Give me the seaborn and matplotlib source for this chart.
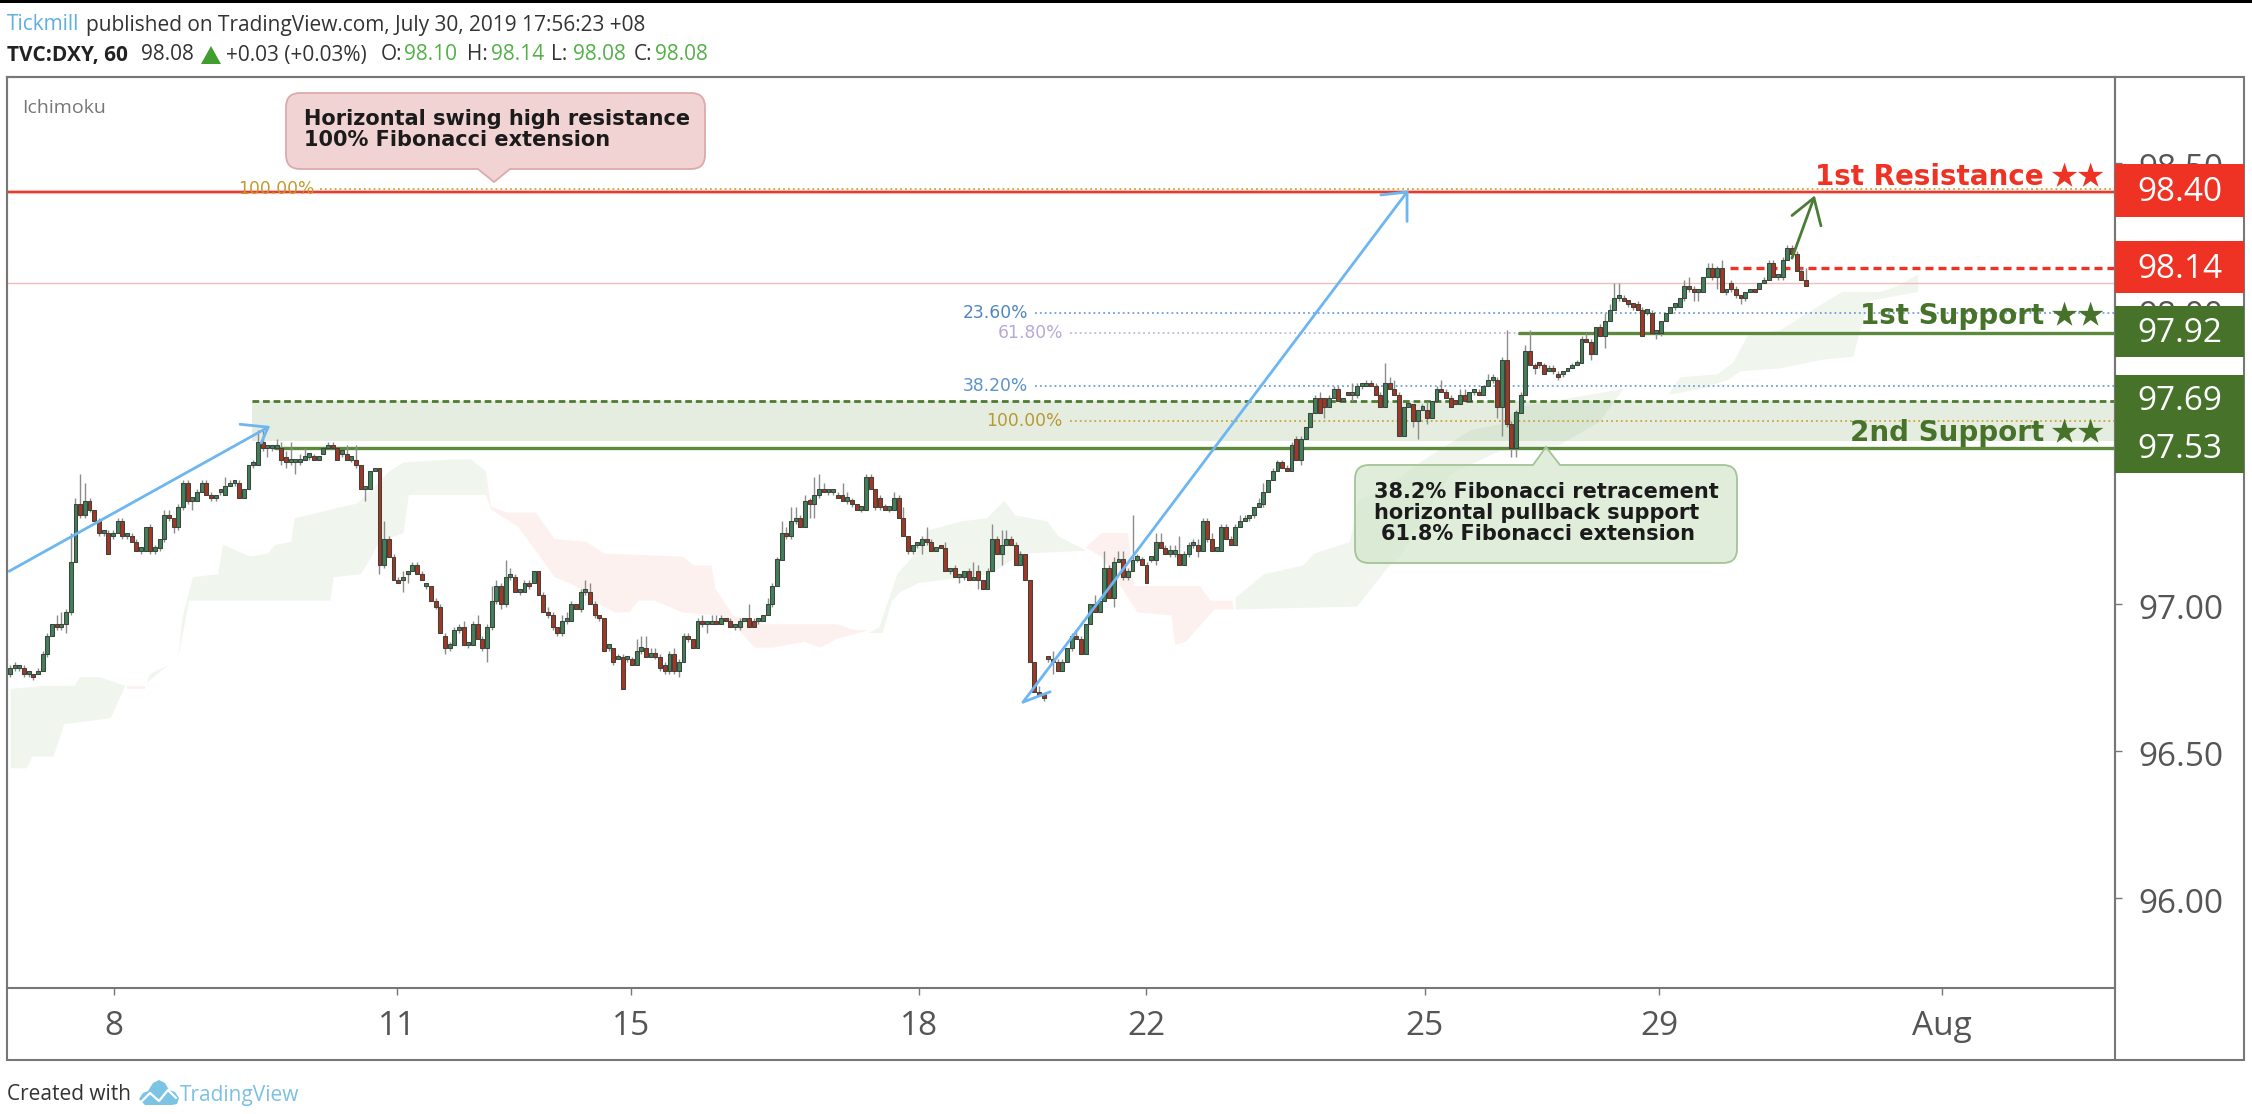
import numpy as np
import pandas as pd
import matplotlib
matplotlib.use("Agg")
import matplotlib.pyplot as plt
from matplotlib.patches import PathPatch, Rectangle, Polygon
from matplotlib.path import Path
from matplotlib.lines import Line2D
from matplotlib.transforms import Affine2D, ScaledTranslation
import seaborn as sns

# ---------- hourly DXY candles, July 2019 ----------
opens = [
96.76,96.78,96.78,96.78,96.76,96.76,96.76,96.77,96.83,96.89,
96.93,96.92,96.93,96.97,97.14,97.34,97.30,97.35,97.32,97.28,
97.24,97.24,97.23,97.24,97.28,97.23,97.23,97.21,97.18,97.18,97.26,
97.18,97.19,97.22,97.30,97.29,97.26,97.33,97.41,97.35,97.35,
97.38,97.41,97.37,97.36,97.38,97.37,97.40,97.41,97.41,97.36,
97.39,97.47,97.47,97.55,97.53,97.53,97.53,97.53,97.50,97.48,97.48,
97.48,97.49,97.50,97.50,97.49,97.51,97.53,97.54,97.53,97.51,97.51,97.49,
97.49,97.47,97.39,97.39,97.45,97.46,97.13,97.22,97.16,97.08,
97.08,97.10,97.11,97.13,97.10,97.06,97.06,97.01,96.99,96.89,
96.85,96.86,96.91,96.92,96.86,96.86,96.93,96.88,96.85,96.92,97.01,
97.06,97.00,97.09,97.09,97.04,97.04,97.07,97.07,97.11,97.03,
96.97,96.96,96.92,
96.90,96.94,96.94,97.00,96.98,97.04,97.04,97.00,96.96,96.95,
96.85,96.85,96.81,96.82,96.81,96.81,96.79,96.84,96.85,96.82,
96.83,96.82,96.79,96.77,96.83,96.77,96.80,96.89,96.88,96.85,
96.94,96.93,96.93,96.94,96.93,96.95,96.94,96.92,96.92,96.94,
96.95,96.94,96.94,96.94,96.96,97.00,97.06,97.15,97.24,97.23,
97.28,97.29,97.26,97.35,97.34,97.37,97.39,97.38,97.38,97.37,
97.37,97.35,97.35,97.34,97.32,97.32,97.43,97.39,97.36,97.33,
97.32,97.32,97.36,97.29,97.23,97.18,97.20,97.20,97.22,97.21,
97.18,97.20,97.19,97.11,97.12,97.09,97.09,97.11,97.08,97.11,
97.08,97.05,97.11,97.22,97.17,97.20,97.22,97.20,97.13,97.17,
97.08,96.80,96.70,96.69,
96.82,96.81,96.80,96.77,96.80,96.85,96.89,96.88,96.83,96.93,
97.00,96.97,97.01,97.12,97.02,97.14,97.15,97.09,97.11,97.15,
97.15,97.13,97.15,97.15,97.21,97.19,97.17,97.17,97.17,97.13,
97.17,97.20,97.20,97.18,97.28,97.22,97.18,97.18,97.26,97.22,
97.20,97.26,97.28,97.29,97.30,97.33,97.34,97.38,97.42,97.45,
97.48,97.46,97.45,
97.56,97.49,97.56,97.60,97.65,97.70,97.70,97.67,97.70,97.73,
97.69,97.72,97.71,97.71,97.74,97.74,97.75,97.74,97.71,97.67,
97.75,97.73,97.71,97.57,97.67,97.68,97.62,97.66,97.66,97.63,
97.69,97.73,97.72,97.70,97.69,97.68,97.71,97.69,97.72,97.72,
97.71,97.74,97.76,97.76,97.67,97.83,97.61,97.53,97.65,97.71,
97.86,97.81,
97.82,97.81,97.79,97.80,97.78,97.78,97.79,97.80,97.81,97.82,
97.90,97.89,97.85,97.94,97.91,97.96,98.00,98.04,98.04,98.03,
98.02,98.02,98.00,97.99,97.99,97.92,97.92,97.96,97.99,98.01,
98.01,98.04,98.08,98.07,98.06,98.06,98.11,98.14,98.11,98.14,
98.06,98.09,98.07,98.05,98.04,98.06,98.07,98.07,98.09,98.10,
98.16,98.11,98.11,98.17,98.21,98.19,98.13,98.10]

closes = [
96.78,96.78,96.78,96.76,96.76,96.75,96.77,96.83,96.89,96.93,
96.92,96.93,96.97,97.14,97.34,97.30,97.35,97.32,97.28,97.24,
97.24,97.17,97.24,97.28,97.23,97.23,97.21,97.18,97.18,97.26,97.18,
97.19,97.22,97.30,97.29,97.26,97.33,97.41,97.35,97.35,97.38,
97.41,97.37,97.36,97.36,97.38,97.40,97.40,97.41,97.36,97.39,
97.47,97.47,97.55,97.53,97.53,97.53,97.53,97.49,97.48,97.48,97.48,
97.49,97.50,97.50,97.49,97.49,97.53,97.54,97.53,97.49,97.51,97.49,97.49,
97.47,97.39,97.39,97.45,97.46,97.13,97.22,97.16,97.08,97.07,
97.09,97.10,97.13,97.10,97.08,97.06,97.01,96.99,96.90,96.85,
96.86,96.91,96.92,96.86,96.86,96.93,96.88,96.85,96.92,97.01,97.06,
97.00,97.09,97.09,97.04,97.04,97.07,97.06,97.11,97.03,96.97,
96.96,96.92,96.90,
96.94,96.94,97.00,96.98,97.04,97.04,97.00,96.96,96.95,96.84,
96.85,96.80,96.82,96.71,96.81,96.79,96.84,96.85,96.82,96.83,
96.82,96.78,96.77,96.83,96.77,96.80,96.89,96.88,96.85,96.94,
96.93,96.93,96.94,96.93,96.95,96.94,96.92,96.92,96.94,96.95,
96.92,96.92,96.94,96.96,97.00,97.06,97.15,97.24,97.23,97.28,
97.29,97.26,97.35,97.34,97.37,97.39,97.38,97.38,97.38,97.36,
97.35,97.35,97.34,97.32,97.32,97.43,97.39,97.33,97.33,97.32,
97.32,97.36,97.29,97.23,97.18,97.20,97.20,97.22,97.21,97.18,
97.18,97.19,97.11,97.11,97.09,97.09,97.11,97.08,97.09,97.08,
97.05,97.11,97.22,97.17,97.20,97.22,97.20,97.13,97.17,97.08,
96.80,96.70,96.69,96.68,
96.81,96.80,96.77,96.80,96.85,96.89,96.88,96.83,96.93,97.00,
96.97,97.01,97.12,97.02,97.14,97.15,97.09,97.11,97.15,97.15,
97.13,97.07,97.15,97.21,97.19,97.17,97.17,97.17,97.13,97.17,
97.20,97.20,97.18,97.28,97.22,97.18,97.18,97.26,97.22,97.20,
97.26,97.28,97.28,97.29,97.33,97.34,97.38,97.42,97.45,97.48,
97.46,97.45,97.54,
97.49,97.56,97.60,97.65,97.70,97.65,97.67,97.70,97.73,97.69,
97.70,97.71,97.71,97.74,97.74,97.75,97.74,97.71,97.67,97.75,
97.73,97.71,97.57,97.67,97.68,97.62,97.66,97.66,97.63,97.69,
97.73,97.72,97.70,97.67,97.68,97.71,97.69,97.72,97.72,97.71,
97.74,97.76,97.76,97.67,97.83,97.61,97.53,97.65,97.71,97.86,
97.81,97.80,
97.81,97.78,97.80,97.79,97.77,97.79,97.80,97.81,97.82,97.90,
97.89,97.85,97.94,97.91,97.96,98.00,98.04,98.04,98.03,98.02,
98.01,98.00,97.91,97.99,97.92,97.92,97.96,97.99,98.01,98.01,
98.04,98.08,98.07,98.06,98.06,98.11,98.14,98.11,98.14,98.06,
98.06,98.07,98.05,98.04,98.06,98.07,98.06,98.09,98.10,98.16,
98.11,98.11,98.17,98.21,98.19,98.13,98.10,98.08]

highs = [
96.79,96.80,96.79,96.79,96.76,96.76,96.78,96.84,96.90,96.93,
96.96,96.97,96.98,97.24,97.36,97.44,97.41,97.36,97.32,97.29,
97.25,97.25,97.25,97.29,97.29,97.24,97.24,97.22,97.19,97.26,97.27,
97.20,97.22,97.32,97.32,97.29,97.34,97.42,97.42,97.36,97.39,
97.42,97.42,97.38,97.37,97.39,97.43,97.42,97.42,97.42,97.39,
97.47,97.49,97.59,97.59,97.54,97.54,97.56,97.55,97.52,97.55,97.49,
97.51,97.53,97.51,97.51,97.50,97.53,97.55,97.55,97.53,97.52,97.54,97.50,
97.54,97.47,97.39,97.45,97.46,97.46,97.28,97.23,97.17,97.09,
97.11,97.11,97.14,97.14,97.11,97.06,97.06,97.02,97.00,96.90,
96.87,96.92,96.93,96.94,96.87,96.94,96.96,96.89,96.93,97.06,97.08,
97.07,97.15,97.12,97.10,97.05,97.08,97.08,97.11,97.11,97.04,
96.99,96.97,96.92,
96.96,96.97,97.01,97.00,97.05,97.08,97.07,97.01,96.96,96.95,
96.86,96.85,96.83,96.83,96.82,96.82,96.88,96.89,96.89,96.85,
96.85,96.83,96.80,96.84,96.85,96.81,96.90,96.90,96.88,96.95,
96.96,96.94,96.96,96.96,96.96,96.95,96.95,96.93,96.95,96.95,
97.00,96.95,96.95,96.96,97.02,97.07,97.16,97.28,97.26,97.33,
97.33,97.30,97.37,97.36,97.43,97.44,97.41,97.39,97.38,97.38,
97.41,97.38,97.36,97.34,97.33,97.44,97.44,97.39,97.37,97.34,
97.33,97.38,97.37,97.33,97.23,97.20,97.21,97.23,97.26,97.22,
97.19,97.20,97.21,97.12,97.13,97.10,97.11,97.12,97.14,97.13,
97.08,97.12,97.27,97.23,97.25,97.25,97.23,97.21,97.18,97.17,
97.08,96.80,96.72,96.69,
96.82,96.84,96.81,96.81,96.85,96.90,96.91,96.89,96.93,97.00,
97.03,97.02,97.18,97.13,97.16,97.18,97.18,97.12,97.30,97.17,
97.16,97.14,97.16,97.24,97.24,97.20,97.20,97.20,97.23,97.18,
97.21,97.22,97.22,97.29,97.29,97.24,97.19,97.27,97.27,97.23,
97.27,97.30,97.30,97.30,97.33,97.36,97.41,97.42,97.46,97.49,
97.49,97.47,97.55,
97.57,97.57,97.60,97.65,97.71,97.72,97.70,97.71,97.74,97.74,
97.70,97.72,97.75,97.75,97.75,97.76,97.76,97.75,97.72,97.82,
97.77,97.76,97.72,97.67,97.68,97.68,97.66,97.68,97.69,97.69,
97.74,97.76,97.73,97.71,97.69,97.73,97.73,97.72,97.73,97.73,
97.74,97.78,97.78,97.77,97.84,97.93,97.62,97.66,97.72,97.88,
97.93,97.82,
97.82,97.82,97.81,97.81,97.79,97.79,97.80,97.82,97.83,97.91,
97.92,97.90,97.94,97.95,97.99,98.02,98.09,98.09,98.05,98.03,
98.02,98.03,98.01,98.00,98.00,97.93,97.96,97.99,98.01,98.02,
98.04,98.10,98.11,98.08,98.07,98.11,98.16,98.16,98.15,98.17,
98.07,98.10,98.08,98.05,98.06,98.07,98.07,98.09,98.11,98.17,
98.17,98.12,98.18,98.22,98.22,98.20,98.14,98.14]

lows = [
96.75,96.77,96.77,96.75,96.75,96.74,96.76,96.77,96.82,96.89,
96.91,96.91,96.90,96.96,97.14,97.29,97.29,97.31,97.28,97.23,
97.23,97.17,97.22,97.24,97.22,97.22,97.21,97.18,97.17,97.18,97.17,
97.17,97.18,97.21,97.28,97.24,97.25,97.32,97.34,97.32,97.35,
97.38,97.37,97.35,97.35,97.37,97.37,97.40,97.40,97.36,97.36,
97.39,97.46,97.47,97.52,97.50,97.52,97.53,97.47,97.46,97.47,97.44,
97.47,97.49,97.49,97.49,97.49,97.51,97.53,97.53,97.49,97.50,97.49,97.48,
97.46,97.39,97.35,97.39,97.45,97.10,97.12,97.16,97.08,97.07,
97.04,97.07,97.11,97.10,97.08,97.05,97.01,96.98,96.90,96.83,
96.84,96.86,96.90,96.86,96.85,96.86,96.88,96.84,96.80,96.91,97.00,
96.98,96.99,97.08,97.04,97.03,97.04,97.05,97.07,97.03,96.97,
96.95,96.91,96.89,
96.89,96.93,96.94,96.98,96.97,97.03,97.00,96.95,96.94,96.84,
96.84,96.79,96.81,96.71,96.80,96.79,96.79,96.83,96.82,96.82,
96.81,96.77,96.76,96.76,96.76,96.75,96.80,96.87,96.85,96.85,
96.92,96.90,96.93,96.93,96.93,96.94,96.92,96.91,96.91,96.94,
96.92,96.92,96.93,96.94,96.96,96.99,97.06,97.15,97.22,97.22,
97.27,97.26,97.26,97.29,97.29,97.36,97.38,97.37,97.37,97.36,
97.35,97.34,97.33,97.32,97.31,97.32,97.39,97.32,97.32,97.32,
97.31,97.32,97.29,97.23,97.17,97.17,97.19,97.17,97.20,97.18,
97.18,97.19,97.11,97.10,97.09,97.07,97.08,97.08,97.08,97.05,
97.05,97.05,97.11,97.17,97.13,97.20,97.20,97.13,97.13,97.08,
96.80,96.70,96.69,96.67,
96.80,96.76,96.77,96.77,96.80,96.84,96.88,96.83,96.83,96.93,
96.97,96.97,97.01,97.02,96.99,97.14,97.08,97.08,97.11,97.14,
97.13,97.07,97.14,97.13,97.19,97.17,97.16,97.16,97.13,97.13,
97.16,97.19,97.16,97.18,97.21,97.18,97.18,97.18,97.22,97.20,
97.20,97.26,97.28,97.28,97.29,97.33,97.33,97.38,97.42,97.45,
97.46,97.45,97.45,
97.49,97.47,97.56,97.60,97.65,97.65,97.63,97.67,97.70,97.69,
97.69,97.71,97.69,97.70,97.73,97.74,97.74,97.71,97.67,97.67,
97.73,97.71,97.57,97.57,97.67,97.60,97.56,97.66,97.61,97.63,
97.69,97.72,97.70,97.67,97.68,97.68,97.69,97.69,97.71,97.71,
97.71,97.74,97.75,97.63,97.57,97.60,97.50,97.50,97.65,97.71,
97.81,97.78,
97.80,97.78,97.79,97.78,97.76,97.77,97.79,97.80,97.81,97.82,
97.89,97.83,97.85,97.91,97.87,97.96,98.00,98.03,98.03,98.01,
98.00,98.00,97.91,97.98,97.92,97.90,97.91,97.96,97.99,98.00,
98.01,98.03,98.06,98.03,98.03,98.06,98.11,98.10,98.07,98.06,
98.05,98.06,98.04,98.02,98.03,98.06,98.06,98.07,98.09,98.10,
98.11,98.10,98.10,98.17,98.19,98.13,98.10,98.08]

# ---------- Ichimoku cloud outlines (x in slightly coarser bar units) ----------
kumo_bar_unit = 1.035
green1_x = [0.1,6.8,13.4,14.5,18.6,23.8,20.8,11.2,9,4.6,3.5,0.1]
green1_y = [96.71,96.72,96.72,96.75,96.75,96.72,96.61,96.59,96.48,96.48,96.44,96.44]
red1_x = [24.1,27.8,27.8,24.1]
red1_y = [96.72,96.72,96.71,96.71]
green2_x = [28.2,28.9,32.6,34.8,35.6,37.8,43,44,49.6,53.3,54.8,58.1,58.8,68.8,71.7,78.4,81.3,90.9,95.3,98.3,
            98.3,82.4,81.3,76.2,74.7,72.5,66.9,66.2,37,34.8]
green2_y = [96.73,96.76,96.79,96.82,96.95,97.09,97.10,97.20,97.16,97.17,97.20,97.21,97.29,97.33,97.34,97.45,97.48,97.49,97.49,97.45,
            97.37,97.37,97.24,97.21,97.16,97.10,97.09,97.01,97.01,96.82]
red2_x = [98.3,99.4,102.7,108.6,112.5,119.1,122.8,139,141.2,144.9,145.7,149.4,153.8,170.8,174.4,177.4,
          170.8,167.4,164.1,157.5,153.8,150.1,146.4,139,133.1,129.8,128,125,121.3,116.9,112.5,109.5,105,99.4,98.3]
red2_y = [97.45,97.33,97.31,97.31,97.22,97.21,97.17,97.16,97.13,97.13,97.05,96.96,96.93,96.93,96.91,96.91,
          96.88,96.85,96.87,96.85,96.85,96.92,96.96,96.97,97.01,97.01,96.97,96.97,97.0,97.06,97.09,97.16,97.26,97.32,97.37]
green3_x = [177.4,179.6,183.3,187,189.9,196.6,201.8,205.4,207.7,214.3,216.5,222.4,209.1,202.5,187.7,184,182.2,180.3]
green3_y = [96.90,96.92,97.10,97.17,97.25,97.28,97.29,97.35,97.30,97.28,97.23,97.18,97.17,97.10,97.07,97.04,97.01,96.90]
red3_x = [222.2,225.5,231,232.2,245.8,248,252.5,252.8,248.8,242.9,240.7,239.9,232.9,225.5]
red3_y = [97.19,97.24,97.24,97.06,97.06,97.01,97.01,96.98,96.98,96.87,96.86,96.96,96.97,97.16]
green4_x = [253.2,259.1,267.2,269.4,276.8,278.5,284,291.3,301.7,307.9,312,333.3,
            328.5,320.2,307.9,297.5,291.5,287.2,284.5,282.6,278.3,253.2]
green4_y = [97.02,97.10,97.13,97.17,97.21,97.35,97.39,97.48,97.59,97.61,97.67,97.73,
            97.62,97.54,97.52,97.44,97.28,97.16,97.12,97.08,96.99,96.98]
green5_x = [342.6,345,352.7,356,358.9,365.7,375.4,378.5,386.4,389.9,394.2,
            394.2,384.3,382.2,380.8,374.6,365.7,357.4,354.8,349.2]
green5_y = [97.71,97.77,97.78,97.82,97.91,97.93,98.03,98.06,98.06,98.08,98.12,
            98.06,98.03,97.93,97.84,97.83,97.80,97.79,97.76,97.73]

# ---------- levels and labels ----------
resistance_level = 98.40
last_high = 98.14
last_close_line = 98.09
support1 = 97.92
zone_top = 97.69
zone_bottom = 97.553
support2 = 97.53
fib_levels = [98.41, 97.99, 97.92, 97.74, 97.62]
fib_labels = ["100.00%", "23.60%", "61.80%", "38.20%", "100.00%"]
fib_start = [66.3, 219.2, 226.6, 219.2, 226.6]
fib_end = [450.2, 450.2, 322.6, 450.2, 450.2]
fib_label_x = [65.2, 217.7, 225.1, 217.7, 225.1]
fib_colors = ["#c8a83c", "#6f9fd8", "#c4b5dc", "#6f9fd8", "#c8a83c"]
fib_text_colors = ["#c39a2e", "#4f86c2", "#b9a9d6", "#5b93cc", "#b79a33"]

date_ticks = [22.3, 82.7, 132.8, 194.4, 242.9, 302.5, 352.6, 413]
date_labels = ["8", "11", "15", "18", "22", "25", "29", "Aug"]
price_ticks = [96.0, 96.5, 97.0, 98.0, 98.5]

arrow1_x = [-0.2, 55.2]; arrow1_y = [97.11, 97.60]
arrow1_head_x = [49.2, 55.2, 53.7]; arrow1_head_y = [97.61, 97.60, 97.546]
arrow2_x = [216.6, 298.7]; arrow2_y = [96.665, 98.40]
arrow2_head_x = [293.1, 298.7, 298.7]; arrow2_head_y = [98.39, 98.40, 98.30]
arrow2_tail_x = [216.6, 222.4]; arrow2_tail_y = [96.665, 96.70]
up_x = [381.0, 385.7]; up_y = [98.175, 98.38]
up_head_x = [381.0, 385.7, 387.2]; up_head_y = [98.32, 98.38, 98.285]

W, H = 2252, 1114
GREEN_TAG = "#46722a"
RED_TAG = "#ee3224"
GREY = "#555555"
CLOUD_GREEN = "#f0f6ee"
CLOUD_RED = "#fdf1ef"

sns.set_theme(style="white")
plt.rcParams["font.family"] = ["Open Sans", "DejaVu Sans"]

fig = plt.figure(figsize=(W / 100, H / 100), dpi=100, facecolor="white")
ax = fig.add_axes([7 / W, (H - 988) / H, (2115 - 7) / W, (988 - 77) / H])
px = Affine2D().scale(1 / W, -1 / H).translate(0, 1) + fig.transFigure

candles = pd.DataFrame({"open": opens, "close": closes, "high": highs, "low": lows})
candles["bar"] = np.arange(len(candles))
N = len(candles)
step = (1806 - 10) / (N - 1)


def line(xs, ys, color, lw, ls="-", z=2, **kw):
    sns.lineplot(x=np.asarray(xs, float), y=np.asarray(ys, float), ax=ax, color=color, linewidth=lw,
                 linestyle=ls, sort=False, estimator=None, errorbar=None, legend=False, zorder=z, **kw)


# cloud
for xs, ys, col in [(green1_x, green1_y, CLOUD_GREEN), (red1_x, red1_y, CLOUD_RED),
                    (green2_x, green2_y, CLOUD_GREEN), (red2_x, red2_y, CLOUD_RED),
                    (green3_x, green3_y, CLOUD_GREEN), (red3_x, red3_y, CLOUD_RED),
                    (green4_x, green4_y, CLOUD_GREEN), (green5_x, green5_y, CLOUD_GREEN)]:
    ax.fill(np.array(xs) * kumo_bar_unit, ys, color=col, lw=0, zorder=1)

x_right = (2115 - 10) / step
x_left = (7 - 10) / step

# support zone
ax.fill_between([(252 - 10) / step, x_right], zone_bottom, zone_top, color="#a9c49b", alpha=0.3, lw=0, zorder=1.5)

# horizontals
line([x_left, x_right], [last_close_line] * 2, "#f2bcbc", 1.0)
line([x_left, x_right], [resistance_level] * 2, "#f7c2bc", 3.0)
line([x_left, x_right], [resistance_level] * 2, "#e63a30", 1.5)
line([(1730 - 10) / step, x_right], [last_high] * 2, "#ee3224", 2.4, ls=(0, (2.4, 1.5)))
line([(1519 - 10) / step, x_right], [support1] * 2, "#5c8a3c", 2.4)
line([(252 - 10) / step, x_right], [zone_top] * 2, "#4c7a2f", 2.0, ls=(0, (2.4, 1.4)))
line([(275 - 10) / step, x_right], [support2] * 2, "#5c8a3c", 2.4)

for lev, lab, xs, xe, xl, c, tc in zip(fib_levels, fib_labels, fib_start, fib_end, fib_label_x, fib_colors, fib_text_colors):
    line([xs, xe], [lev, lev], c, 1.3, ls=(0, (1, 1.7)), z=2.2)
    ax.text(xl, lev, lab, ha="right", va="center", color=tc, fontsize=12.3, family="DejaVu Sans", zorder=2.3)

# candles
up = candles["close"] >= candles["open"]
ax.vlines(candles["bar"], candles["low"], candles["high"], color="#8c8c8c", lw=1.0, zorder=3)
body_low = candles[["open", "close"]].min(axis=1)
body_h = (candles["close"] - candles["open"]).abs().clip(lower=0.011)
ax.bar(candles["bar"], body_h, bottom=body_low, width=0.84,
       color=np.where(up, "#41805a", "#a53524"), edgecolor="#3d443c", linewidth=0.75, zorder=3.2)

# arrows
line(arrow1_x, arrow1_y, "#6db6f2", 2.0, z=4)
line(arrow1_head_x, arrow1_head_y, "#6db6f2", 2.0, z=4)
line(arrow2_x, arrow2_y, "#6db6f2", 2.0, z=4)
line(arrow2_head_x, arrow2_head_y, "#6db6f2", 2.0, z=4)
line(arrow2_tail_x, arrow2_tail_y, "#6db6f2", 2.0, z=4)
line(up_x, up_y, "#4a7c35", 2.0, z=4)
line(up_head_x, up_head_y, "#4a7c35", 2.0, z=4)

ax.set_xlim(x_left, x_right)
ax.set_ylim(98.4 - (988 - 192) / 294, 98.4 + (192 - 77) / 294)
ax.set_xlabel("")
ax.set_ylabel("")
ax.set_xticks(date_ticks)
ax.set_xticklabels(date_labels)
ax.set_yticks(price_ticks)
ax.set_yticklabels([f"{p:.2f}" for p in price_ticks])
ax.yaxis.tick_right()
ax.tick_params(axis="x", bottom=True, length=5, width=1, color="#777777", pad=11, labelsize=24, labelcolor=GREY)
ax.tick_params(axis="y", right=True, left=False, length=5, width=1, color="#777777", pad=12, labelsize=24, labelcolor=GREY)
shift = ScaledTranslation(0, -3 / 100, fig.dpi_scale_trans)
for lab in ax.get_yticklabels():
    lab.set_transform(lab.get_transform() + shift)
for s in ax.spines.values():
    s.set_visible(True)
    s.set_color("#777777")
    s.set_linewidth(1.5)


# ---------- furniture in figure pixel coordinates ----------
def rect(x0, y0, x1, y1, color, z=5):
    fig.add_artist(Rectangle((x0, y0), x1 - x0, y1 - y0, transform=px, facecolor=color, edgecolor="none", zorder=z))


def text(x, y, s, **kw):
    kw.setdefault("va", "center")
    fig.text(x / W, 1 - y / H, s, **kw)


def seg(xs, ys, color, lw=1.5, z=5):
    fig.add_artist(Line2D(xs, ys, transform=px, color=color, lw=lw, zorder=z))


def bubble(x0, y0, x1, y1, r, tip, base0, base1, face, edge, tail_top):
    V, C = [], []
    def mv(p): V.append(p); C.append(Path.MOVETO)
    def ln(p): V.append(p); C.append(Path.LINETO)
    def cv(c, p): V.extend([c, p]); C.extend([Path.CURVE3, Path.CURVE3])
    mv((x0 + r, y0))
    if tail_top:
        ln((base0, y0)); ln(tip); ln((base1, y0))
    ln((x1 - r, y0)); cv((x1, y0), (x1, y0 + r))
    ln((x1, y1 - r)); cv((x1, y1), (x1 - r, y1))
    if not tail_top:
        ln((base1, y1)); ln(tip); ln((base0, y1))
    ln((x0 + r, y1)); cv((x0, y1), (x0, y1 - r))
    ln((x0, y0 + r)); cv((x0, y0), (x0 + r, y0))
    V.append((x0 + r, y0)); C.append(Path.CLOSEPOLY)
    fig.add_artist(PathPatch(Path(V, C), transform=px, facecolor=face, edgecolor=edge, lw=1.3, zorder=4))


# top strip and outer frame
rect(0, 0, W, 3, "black")
seg([7, 2244], [77, 77], "#777777")
seg([2244, 2244], [77, 1060], "#777777")
seg([7, 2244], [1060, 1060], "#777777")
seg([7, 7], [77, 1060], "#777777")
seg([2115, 2115], [77, 1060], "#777777")

# header
hdr = dict(fontsize=15, family="Open Sans")
text(7, 25, "Tickmill", color="#5eb0e0", **hdr)
text(86, 25, "published on TradingView.com, July 30, 2019 17:56:23 +08", color="#333333", **hdr)
text(7, 55, "TVC:DXY, 60", color="#222222", fontweight="bold", **hdr)
text(141, 55, "98.08", color="#333333", **hdr)
fig.add_artist(Polygon([(201, 64), (221, 64), (211, 46)], closed=True, transform=px, facecolor="#3f9e2e", edgecolor="none", zorder=5))
text(226, 55, "+0.03 (+0.03%)", color="#333333", **hdr)
for x, s in [(381, "O:"), (467, "H:"), (551, "L:"), (634, "C:")]:
    text(x, 55, s, color="#333333", **hdr)
for x, s in [(404, "98.10"), (491, "98.14"), (573, "98.08"), (655, "98.08")]:
    text(x, 55, s, color="#53b048", **hdr)
text(22, 108, "Ichimoku", color="#777777", fontsize=14, family="Open Sans")

# callouts
bubble(286, 93, 705, 169, 14, (494, 182), 478, 510, "#f2d3d3", "#dcaaaa", False)
bt = dict(fontsize=15, fontweight="bold", color="#1b1b1b", family="DejaVu Sans", zorder=6)
text(304, 119, "Horizontal swing high resistance", **bt)
text(304, 140, "100% Fibonacci extension", **bt)
bubble(1355, 465, 1737, 563, 14, (1546, 447), 1533, 1560, (0.83, 0.90, 0.80, 0.72), "#a3c496", True)
text(1374, 492, "38.2% Fibonacci retracement", **bt)
text(1374, 513, "horizontal pullback support", **bt)
text(1381, 534, "61.8% Fibonacci extension", **bt)

# level captions
cap = dict(fontsize=20, fontweight="bold", family="DejaVu Sans", ha="right", zorder=6)
star = dict(fontsize=19.5, family="Noto Sans CJK SC", ha="right", zorder=6)
for y, s, c in [(177, "1st Resistance", "#ee3224"), (316, "1st Support", "#46722a"), (433, "2nd Support", "#46722a")]:
    text(2044, y, s, color=c, **cap)
    text(2105, y, "★★", color=c, **star)

# price tags
rect(2115, 164, 2244, 217, RED_TAG)
rect(2115, 241, 2244, 293, RED_TAG)
rect(2115, 306, 2244, 357, GREEN_TAG)
rect(2115, 375, 2244, 473, GREEN_TAG)
tag = dict(fontsize=24, color="white", ha="center", family="Open Sans", zorder=6)
for y, s in [(193, "98.40"), (269, "98.14"), (333, "97.92"), (402, "97.69"), (449, "97.53")]:
    text(2180, y, s, **tag)

# footer
text(7, 1095, "Created with", color="#333333", fontsize=15, family="Open Sans")
fig.add_artist(Polygon([(139, 1099), (143, 1093), (148, 1091), (153, 1083), (159, 1080), (165, 1083), (169, 1090),
                        (175, 1092), (179, 1098), (177, 1104), (172, 1105), (145, 1105)],
                       closed=True, transform=px, facecolor="#7cc4e4", edgecolor="none", zorder=5))
fig.add_artist(Line2D([142, 150, 159, 168, 176], [1101, 1093, 1101, 1090, 1098], transform=px, color="white", lw=1.6, zorder=6))
text(180, 1095, "TradingView", color="#7cc0e2", fontsize=15, family="Open Sans")

fig.savefig("out.png", dpi=100)
